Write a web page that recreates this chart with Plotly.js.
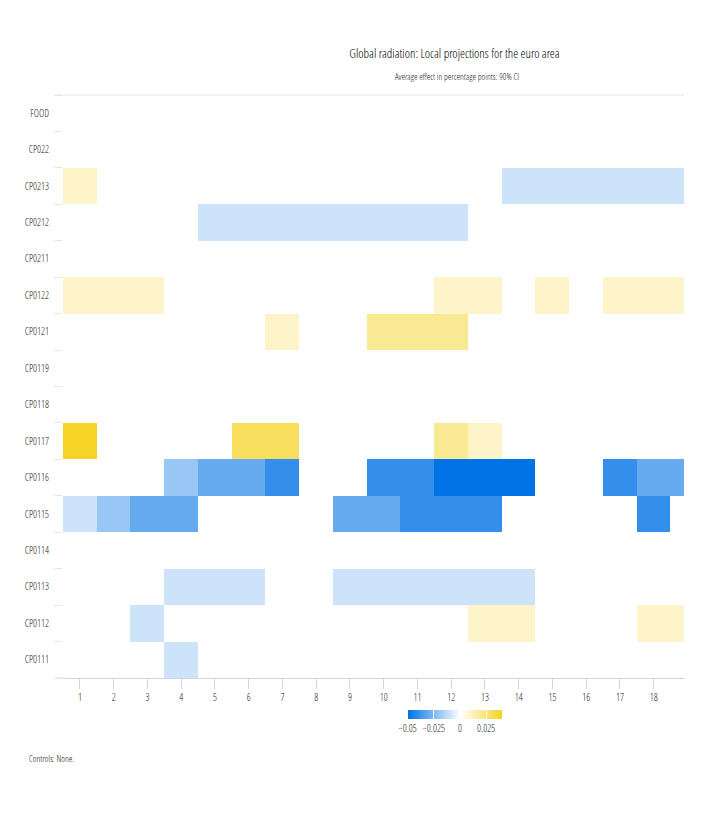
<!DOCTYPE html>
<html>
<head>
<meta charset="utf-8">
<script src="https://cdn.plot.ly/plotly-3.0.1.min.js"></script>
<style>html,body{margin:0;padding:0;background:#fff;}#chart{width:708px;height:818px;}</style>
</head>
<body>
<div id="chart"></div>
<script>
// Horizons (columns)
const horizons = [1,2,3,4,5,6,7,8,9,10,11,12,13,14,15,16,17,18,19];
const xTicks = [1,2,3,4,5,6,7,8,9,10,11,12,13,14,15,16,17,18];
// Rows, top to bottom
const categories = ["FOOD","CP022","CP0213","CP0212","CP0211","CP0122","CP0121","CP0119","CP0118","CP0117","CP0116","CP0115","CP0114","CP0113","CP0112","CP0111"];
const _ = null;
const FOOD   = [_,_,_,_,_,_,_,_,_,_,_,_,_,_,_,_,_,_,_];
const CP022  = [_,_,_,_,_,_,_,_,_,_,_,_,_,_,_,_,_,_,_];
const CP0213 = [0.01,_,_,_,_,_,_,_,_,_,_,_,_,-0.01,-0.01,-0.01,-0.01,-0.01,-0.01];
const CP0212 = [_,_,_,_,-0.01,-0.01,-0.01,-0.01,-0.01,-0.01,-0.01,-0.01,_,_,_,_,_,_,_];
const CP0211 = [_,_,_,_,_,_,_,_,_,_,_,_,_,_,_,_,_,_,_];
const CP0122 = [0.01,0.01,0.01,_,_,_,_,_,_,_,_,0.01,0.01,_,0.01,_,0.01,0.01,0.01];
const CP0121 = [_,_,_,_,_,_,0.01,_,_,0.02,0.02,0.02,_,_,_,_,_,_,_];
const CP0119 = [_,_,_,_,_,_,_,_,_,_,_,_,_,_,_,_,_,_,_];
const CP0118 = [_,_,_,_,_,_,_,_,_,_,_,_,_,_,_,_,_,_,_];
const CP0117 = [0.04,_,_,_,_,0.03,0.03,_,_,_,_,0.02,0.01,_,_,_,_,_,_];
const CP0116 = [_,_,_,-0.02,-0.03,-0.03,-0.04,_,_,-0.04,-0.04,-0.05,-0.05,-0.05,_,_,-0.04,-0.03,-0.03];
const CP0115 = [-0.01,-0.02,-0.03,-0.03,_,_,_,_,-0.03,-0.03,-0.04,-0.04,-0.04,_,_,_,_,-0.04,_];
const CP0114 = [_,_,_,_,_,_,_,_,_,_,_,_,_,_,_,_,_,_,_];
const CP0113 = [_,_,_,-0.01,-0.01,-0.01,_,_,-0.01,-0.01,-0.01,-0.01,-0.01,-0.01,_,_,_,_,_];
const CP0112 = [_,_,-0.01,_,_,_,_,_,_,_,_,_,0.01,0.01,_,_,_,0.01,0.01];
const CP0111 = [_,_,_,-0.01,_,_,_,_,_,_,_,_,_,_,_,_,_,_,_];
const zMin = -0.05, zMax = 0.04;
const cbTickVals = [-0.05,-0.025,0,0.025];
const cbTickText = ["\u22120.05","\u22120.025","0","0.025"];

const z = [FOOD,CP022,CP0213,CP0212,CP0211,CP0122,CP0121,CP0119,CP0118,CP0117,CP0116,CP0115,CP0114,CP0113,CP0112,CP0111];

const FONT = "'Open Sans Condensed Light', 'Open Sans Condensed', 'Roboto Condensed', sans-serif";
const W = 708, H = 818;
const L = 63, R = 24, T = 95, B = 140;
const pw = W - L - R, ph = H - T - B;
const midStop = (0 - zMin) / (zMax - zMin);

const trace = {
  type: 'heatmap',
  x: horizons,
  y: categories,
  z: z,
  zmin: zMin, zmax: zMax,
  colorscale: [[0,'#0073e6'],[midStop,'#ffffff'],[1,'#f5d327']],
  hoverinfo: 'skip',
  colorbar: {
    orientation: 'h',
    xref: 'container', yref: 'container',
    x: (455.5 + 63) / W, xanchor: 'center',
    y: (H - 710) / H, yanchor: 'top',
    len: 94.4, lenmode: 'pixels',
    thickness: 9, thicknessmode: 'pixels',
    xpad: 0, ypad: 0,
    outlinewidth: 0,
    ticks: 'inside', ticklen: 9, tickcolor: '#ffffff', tickwidth: 1,
    tickangle: 0,
    tickvals: cbTickVals, ticktext: cbTickText,
    tickfont: {family: FONT, size: 10, color: '#222222'}
  }
};

const layout = {
  width: W, height: H,
  margin: {l: L, r: R, t: T, b: B, pad: 0},
  paper_bgcolor: '#ffffff', plot_bgcolor: '#ffffff',
  font: {family: FONT, color: '#222222'},
  title: {
    text: 'Global radiation: Local projections for the euro area',
    font: {family: FONT, size: 12.7, color: '#000000'},
    xref: 'container', yref: 'container',
    x: 454.5 / W, xanchor: 'center',
    y: 1 - 54 / H, yanchor: 'middle'
  },
  xaxis: {
    range: [0.5, 18.9],
    tickvals: xTicks,
    ticktext: xTicks.map(String),
    showgrid: false, zeroline: false,
    showline: true, linecolor: '#ccd6eb', linewidth: 1,
    ticks: 'outside', ticklen: 10, tickcolor: '#ccd6eb',
    tickfont: {family: FONT, size: 10, color: '#222222'},
    fixedrange: true
  },
  yaxis: {
    type: 'category',
    autorange: 'reversed',
    tickson: 'boundaries',
    ticks: 'outside', ticklen: 8, tickcolor: '#e6e6e6',
    showgrid: false, zeroline: false, showline: false,
    ticklabelstandoff: 13,
    tickfont: {family: FONT, size: 10, color: '#222222'},
    fixedrange: true
  },
  shapes: [
    {type: 'line', xref: 'paper', yref: 'paper', x0: -8 / pw, x1: 1, y0: 1, y1: 1,
     line: {color: '#e6e6e6', width: 1}},
    {type: 'line', xref: 'paper', yref: 'paper', x0: -8 / pw, x1: 0, y0: 0, y1: 0,
     line: {color: '#ccd6eb', width: 1}}
  ],
  annotations: [
    {text: 'Average effect in percentage points: 90% CI', showarrow: false,
     xref: 'paper', yref: 'paper', x: (457 - L) / pw, y: (H - B - 77) / ph,
     xanchor: 'center', yanchor: 'middle',
     font: {family: FONT, size: 9, color: '#222222'}},
    {text: 'Controls: None.', showarrow: false,
     xref: 'paper', yref: 'paper', x: (27 - L) / pw, y: (H - B - 758) / ph,
     xanchor: 'left', yanchor: 'middle',
     font: {family: FONT, size: 9, color: '#111111'}}
  ]
};

Plotly.newPlot('chart', [trace], layout, {displayModeBar: false, staticPlot: true});
</script>
</body>
</html>
